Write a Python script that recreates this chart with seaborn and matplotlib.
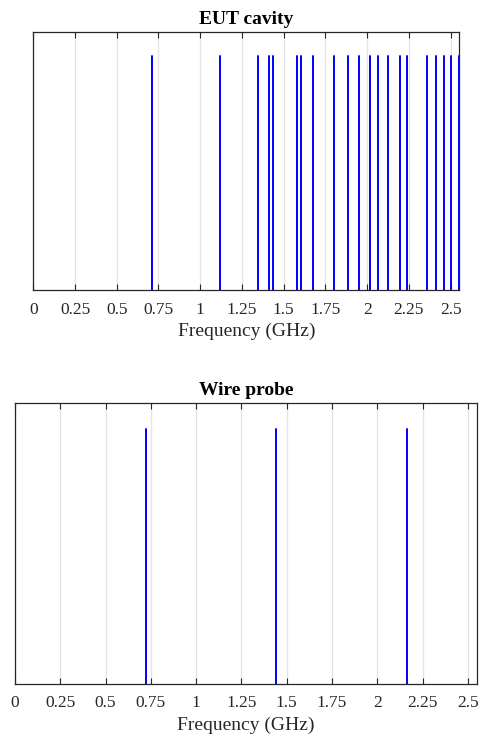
import matplotlib
matplotlib.use("Agg")
import matplotlib.pyplot as plt
import numpy as np
import pandas as pd
import seaborn as sns

# Resonant frequencies (GHz) of each structure, unit amplitude
eut_freqs = [0.709, 1.118, 1.345, 1.413, 1.436, 1.579, 1.601, 1.676, 1.803,
             1.887, 1.953, 2.015, 2.063, 2.123, 2.195, 2.236, 2.356, 2.410,
             2.462, 2.502, 2.550]
wire_freqs = [0.721, 1.441, 2.162]
amplitude = 1.0

xticks = [0, 0.25, 0.5, 0.75, 1, 1.25, 1.5, 1.75, 2, 2.25, 2.5]
xtick_labels = ["0", "0.25", "0.5", "0.75", "1", "1.25", "1.5", "1.75", "2", "2.25", "2.5"]
titles = ["EUT cavity", "Wire probe"]
xlabel = "Frequency (GHz)"

sns.set_theme(style="white")
plt.rcParams["font.family"] = ["Liberation Serif", "DejaVu Serif"]

fig = plt.figure(figsize=(4.81, 7.39), dpi=100)
ax_top = fig.add_axes([33.3 / 481, 1 - 290.5 / 739, 426.0 / 481, 258.5 / 739])
ax_bot = fig.add_axes([15.0 / 481, 1 - 684.3 / 739, 462.3 / 481, 280.8 / 739])

axis_col = "#262626"


def stems(freqs):
    rows = []
    for i, f in enumerate(freqs):
        rows.append({"mode": i, "freq": f, "amp": 0.0})
        rows.append({"mode": i, "freq": f, "amp": amplitude})
    return pd.DataFrame(rows)


for ax, freqs, title in zip([ax_top, ax_bot], [eut_freqs, wire_freqs], titles):
    df = stems(freqs)
    sns.lineplot(data=df, x="freq", y="amp", units="mode", estimator=None,
                 color=(0, 0, 1), lw=1.4, ax=ax, legend=False, zorder=3)
    ax.set_xlim(0, 2.552)
    ax.set_ylim(0, 1.1)
    ax.set_xticks(xticks)
    ax.set_xticklabels(xtick_labels)
    ax.set_yticks([])
    ax.set_ylabel("")
    ax.set_xlabel(xlabel, fontsize=14, color=axis_col, labelpad=4)
    ax.set_title(title, fontsize=14, fontweight="bold", color="black", pad=6)
    ax.grid(axis="x", color="#e3e3e3", lw=0.9, zorder=0)
    ax.tick_params(axis="x", direction="in", length=4, width=0.8, colors=axis_col,
                   labelsize=12.5, top=True, bottom=True, pad=8)
    for s in ax.spines.values():
        s.set_visible(True)
        s.set_color(axis_col)
        s.set_linewidth(0.9)

fig.savefig("out.png", dpi=100)
